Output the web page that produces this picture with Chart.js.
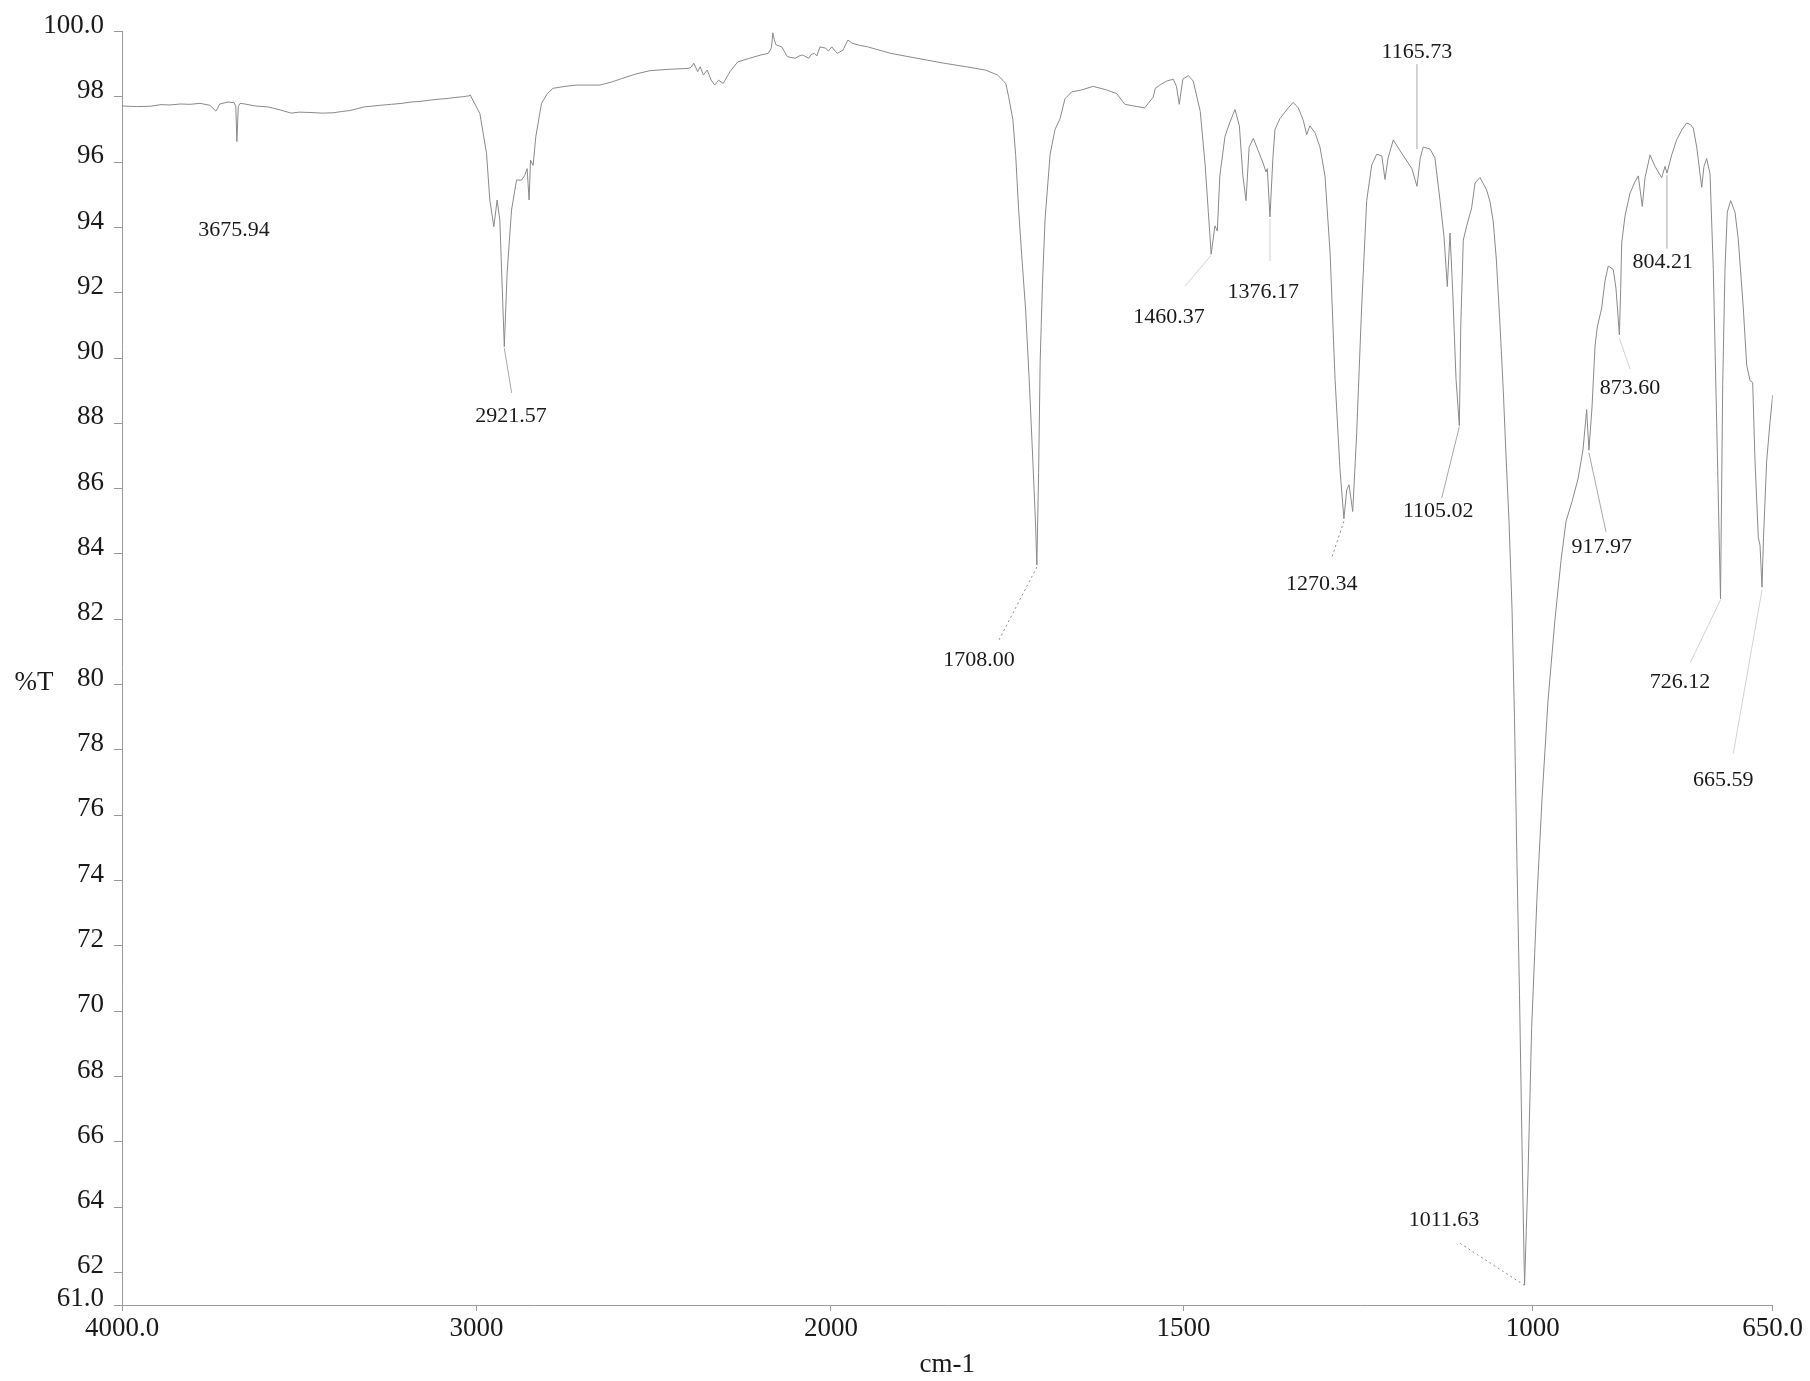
<!DOCTYPE html>
<html>
<head>
<meta charset="utf-8">
<title>FTIR spectrum</title>
<script src="https://cdn.jsdelivr.net/npm/chart.js@4.4.1/dist/chart.umd.min.js"></script>
<style>
  html, body { margin: 0; padding: 0; background: #ffffff; }
  #wrap { width: 1810px; height: 1381px; }
</style>
</head>
<body>
<div id="wrap"><canvas id="ir" width="1810" height="1381"></canvas></div>
<script>
// Spectrum: wavenumber (cm-1) and transmittance (%T)
const wavenumbers = [
  4000, 3960, 3921, 3890, 3865, 3835, 3808, 3780, 3752, 3735, 3724, 3701, 3684, 3679, 3675.94, 3672, 3667, 3653,
  3625, 3588, 3554, 3523, 3500, 3470, 3435, 3405, 3380, 3357, 3317, 3272, 3240, 3210, 3185, 3159, 3130, 3103,
  3080, 3061, 3040, 3021, 3018, 2990.6, 2971.7, 2962.4, 2951.1, 2941.8, 2934.2, 2921.57, 2913.6, 2901.2, 2887.1,
  2872.9, 2863.6, 2857.2, 2851.6, 2847.6, 2840.3, 2832.7, 2816.6, 2800, 2783.9, 2750, 2717.9, 2690, 2652, 2620,
  2587, 2550, 2511, 2460, 2403, 2395, 2387, 2376, 2369, 2360, 2349, 2338, 2328, 2317, 2304, 2285, 2263, 2230,
  2198, 2177, 2168, 2164, 2160, 2155, 2139, 2123, 2110, 2101, 2090, 2080, 2063, 2055, 2047, 2040, 2031, 2015,
  2007, 1999, 1991, 1983, 1976, 1970, 1960, 1948, 1915, 1878, 1840, 1808, 1781, 1764, 1756, 1752, 1748, 1742,
  1738, 1734, 1729, 1724, 1719, 1714, 1710, 1708, 1705.5, 1703.3, 1700, 1696.3, 1689.2, 1682.2, 1675.1, 1668.1,
  1658.6, 1644.5, 1628, 1609, 1595, 1583, 1571, 1555, 1543, 1540, 1533, 1524, 1514.5, 1510, 1506, 1501, 1493,
  1486, 1476, 1469, 1464.5, 1460.37, 1455, 1451.6, 1448, 1440.6, 1433.4, 1426.3, 1420, 1415, 1410.5, 1406, 1400,
  1393, 1386, 1382, 1380, 1376.17, 1372, 1369, 1362, 1352, 1343, 1335.6, 1328.5, 1323.6, 1319, 1311.7, 1304.6,
  1297.4, 1290, 1283, 1276, 1270.34, 1266.3, 1263, 1257.7, 1252, 1245, 1237.7, 1230.5, 1223.4, 1216, 1211.5,
  1207, 1199.6, 1190, 1173, 1165.73, 1161, 1156.7, 1147, 1140, 1132.7, 1127, 1122.3, 1118.4, 1114.6, 1109.8,
  1105.02, 1103, 1099.4, 1094.5, 1087.4, 1082.6, 1075.5, 1066, 1061.3, 1056.6, 1052, 1046.8, 1042.1, 1038.2,
  1033.9, 1029.6, 1026.1, 1022.5, 1018.9, 1015.4, 1012.5, 1011.63, 1006.7, 1001.5, 993.7, 986.4, 977.7, 967.5,
  958.7, 951.4, 942.7, 933.9, 926.6, 921.3, 917.97, 913.5, 909.1, 905.8, 899.4, 894.6, 889.8, 882.5, 878.5,
  873.6, 871.7, 870.2, 865.4, 858.1, 850.8, 846, 840.2, 836.2, 828.9, 821.6, 811.9, 807, 804.21, 797.3, 790,
  782.7, 775.4, 770, 765.8, 760.8, 756, 753.5, 750.2, 746.3, 741.4, 736.6, 731.7, 726.12, 722.9, 719.6, 716.2,
  711.3, 705, 700.2, 692.9, 687.9, 683.1, 679.2, 675.8, 671, 668.5, 665.59, 663.4, 658.8, 656.4, 654, 650
];
const transmittance = [
  97.72, 97.70, 97.71, 97.76, 97.75, 97.78, 97.77, 97.80, 97.74, 97.56, 97.78, 97.84, 97.82, 97.70, 96.63, 97.70, 97.80, 97.78,
  97.72, 97.69, 97.60, 97.50, 97.53, 97.52, 97.50, 97.51, 97.55, 97.58, 97.69, 97.74, 97.77, 97.80, 97.84, 97.86, 97.90, 97.93,
  97.95, 97.98, 98.00, 98.03, 98.06, 97.49, 96.27, 94.84, 94.02, 94.84, 94.23, 90.35, 92.60, 94.53, 95.45,
  95.45, 95.60, 95.80, 94.84, 96.06, 95.90, 96.78, 97.80, 98.10, 98.26, 98.32, 98.36, 98.36, 98.36, 98.45,
  98.57, 98.70, 98.80, 98.84, 98.87, 98.90, 99.03, 98.77, 98.92, 98.67, 98.82, 98.51, 98.36, 98.51, 98.41, 98.77, 99.07, 99.18,
  99.28, 99.33, 99.50, 99.96, 99.75, 99.59, 99.53, 99.23, 99.20, 99.18, 99.25, 99.28, 99.18, 99.30, 99.33, 99.25, 99.53, 99.49,
  99.40, 99.53, 99.33, 99.43, 99.74, 99.64, 99.58, 99.53, 99.33, 99.18, 99.03, 98.92, 98.82, 98.67, 98.50, 98.40, 98.00, 97.30,
  96.20, 94.60, 93.00, 91.50, 89.40, 87.00, 85.00, 83.66, 86.50, 89.90, 92.30, 94.27, 96.24, 97.00, 97.33, 97.94,
  98.15, 98.21, 98.32, 98.21, 98.10, 97.77, 97.72, 97.66, 97.99, 98.26, 98.37, 98.48, 98.54, 98.32, 97.77, 98.54, 98.65,
  98.48, 97.55, 95.91, 94.49, 93.18, 94.05, 93.89, 95.58, 96.79, 97.23, 97.61, 97.11, 95.58, 94.82, 96.46, 96.73,
  96.35, 95.97, 95.70, 95.80, 94.32, 96.13, 97.00, 97.33, 97.61, 97.83, 97.66, 97.28, 96.84, 97.11, 96.90, 96.46,
  95.58, 93.18, 89.35, 86.61, 85.08, 85.96, 86.12, 85.30, 87.71, 91.53, 94.82, 95.91, 96.24, 96.19, 95.47,
  96.13, 96.68, 96.35, 95.80, 95.26, 96.13, 96.46, 96.40, 96.13, 94.82, 93.72, 92.19, 93.83, 92.08, 89.35,
  87.93, 90.99, 93.61, 94.05, 94.60, 95.36, 95.53, 95.15, 94.80, 94.20, 93.00, 91.00, 89.00, 87.00,
  85.00, 82.30, 79.00, 74.50, 70.50, 66.00, 62.50, 61.62, 65.00, 69.50, 73.50, 76.50, 79.50, 82.00,
  83.80, 85.00, 85.60, 86.30, 87.20, 88.42, 87.18, 88.50, 90.37, 90.95, 91.53, 92.36, 92.82, 92.71, 92.12,
  90.71, 92.12, 93.53, 94.35, 95.05, 95.40, 95.58, 94.64, 95.52, 96.22, 95.87, 95.52, 95.87, 95.66, 96.22, 96.69,
  96.98, 97.20, 97.15, 97.04, 96.46, 95.64, 95.23, 95.87, 96.11, 95.64, 92.71, 88.02, 82.63, 89.19, 92.71, 94.47,
  94.82, 94.47, 93.64, 91.53, 89.78, 89.31, 89.25, 86.85, 84.50, 84.27, 82.98, 84.50, 86.85, 87.43, 88.02, 88.87
];

// Axis ticks
const xTickValues = [4000, 3000, 2000, 1500, 1000, 650];
const yTickValues = [61, 62, 64, 66, 68, 70, 72, 74, 76, 78, 80, 82, 84, 86, 88, 90, 92, 94, 96, 98, 100];

// Picked peaks
const peakLabels = ['3675.94', '2921.57', '1708.00', '1460.37', '1376.17', '1165.73', '1270.34',
                    '1105.02', '1011.63', '917.97', '873.60', '804.21', '726.12', '665.59'];

// Label placement for each peak, in axis units (cm-1, %T):
// text centre, and the leader line [from cm-1, from %T, to cm-1, to %T].
const labelPlacement = {
  '3675.94': { at: [3684, 93.92], lead: null },
  '2921.57': { at: [2902.7, 88.23], lead: [2921.57, 90.3, 2900.7, 88.93], style: 'solid' },
  '1708.00': { at: [1790, 80.75], lead: [1708, 83.6, 1762.4, 81.34], style: 'dot' },
  '1460.37': { at: [1520.6, 91.26], lead: [1460.37, 93.15, 1497.9, 92.2], style: 'faint' },
  '1376.17': { at: [1385.7, 92.03], lead: [1376.17, 94.27, 1376.17, 92.97], style: 'faint' },
  '1165.73': { at: [1165.73, 99.36], lead: [1165.73, 99.0, 1165.73, 96.4], style: 'solid' },
  '1270.34': { at: [1302, 83.06], lead: [1270.34, 85.0, 1287.8, 83.88], style: 'dot' },
  '1105.02': { at: [1135.2, 85.3], lead: [1105.02, 87.9, 1130.3, 85.71], style: 'solid' },
  '1011.63': { at: [1127, 63.6], lead: [1011.63, 61.6, 1104.1, 62.89], style: 'dot' },
  '917.97':  { at: [899.4, 84.22], lead: [917.97, 87.1, 893.1, 84.68], style: 'solid' },
  '873.60':  { at: [858, 89.07], lead: [873.6, 90.6, 858, 89.66], style: 'faint' },
  '804.21':  { at: [810.4, 92.94], lead: [804.21, 95.6, 804.21, 93.35], style: 'solid' },
  '726.12':  { at: [785.2, 80.06], lead: [726.12, 82.6, 770.6, 80.65], style: 'faint' },
  '665.59':  { at: [722, 77.07], lead: [665.59, 82.9, 707.5, 77.89], style: 'faint' }
};

const SERIF = '"Liberation Serif", "Times New Roman", "DejaVu Serif", serif';
const INK = '#1a1a1a';
Chart.defaults.font.family = SERIF;
Chart.defaults.color = INK;

// Wavenumber axis: 4000-2000 cm-1 is plotted at one scale and the
// fingerprint region below 2000 cm-1 expanded. Knots give the fraction of the
// axis length reached at each wavenumber.
const AXIS_KNOTS = [4000, 2000, 1500, 1000, 650];
const AXIS_FRACS = [0, 0.42951, 0.64306, 0.85461, 1];

class WavenumberScale extends Chart.LinearScale {
  static id = 'wavenumber';
  static defaults = Chart.LinearScale.defaults;

  fractionOf(v) {
    const k = AXIS_KNOTS, f = AXIS_FRACS;
    let i = 0;
    while (i < k.length - 2 && v < k[i + 1]) i++;
    return f[i] + (k[i] - v) / (k[i] - k[i + 1]) * (f[i + 1] - f[i]);
  }
  getPixelForValue(value) {
    if (value === null || value === undefined || isNaN(value)) return NaN;
    return this.getPixelForDecimal(this.fractionOf(value));
  }
  getValueForPixel(pixel) {
    const d = this.getDecimalForPixel(pixel);
    const k = AXIS_KNOTS, f = AXIS_FRACS;
    let i = 0;
    while (i < f.length - 2 && d > f[i + 1]) i++;
    return k[i] - (d - f[i]) / (f[i + 1] - f[i]) * (k[i] - k[i + 1]);
  }
}
Chart.register(WavenumberScale);

const points = wavenumbers.map((w, i) => ({ x: w, y: transmittance[i] }));

// Peak labels, leader lines and the %T axis caption
const annotatePlugin = {
  id: 'annotatePeaks',
  afterDatasetsDraw(chart) {
    const { ctx, scales: { x, y } } = chart;
    ctx.save();
    peakLabels.forEach(lbl => {
      const p = labelPlacement[lbl];
      if (p.lead) {
        const [w1, v1, w2, v2] = p.lead;
        ctx.beginPath();
        if (p.style === 'dot') {
          ctx.setLineDash([2, 3]);
          ctx.strokeStyle = '#8c8c8c';
        } else if (p.style === 'faint') {
          ctx.setLineDash([]);
          ctx.strokeStyle = '#d2d2d2';
        } else {
          ctx.setLineDash([]);
          ctx.strokeStyle = '#a8a8a8';
        }
        ctx.lineWidth = 1;
        ctx.moveTo(x.getPixelForValue(w1), y.getPixelForValue(v1));
        ctx.lineTo(x.getPixelForValue(w2), y.getPixelForValue(v2));
        ctx.stroke();
      }
      ctx.setLineDash([]);
      ctx.font = '22px ' + SERIF;
      ctx.fillStyle = INK;
      ctx.textAlign = 'center';
      ctx.textBaseline = 'middle';
      ctx.fillText(lbl, x.getPixelForValue(p.at[0]), y.getPixelForValue(p.at[1]));
    });
    ctx.font = '27px ' + SERIF;
    ctx.fillStyle = INK;
    ctx.textAlign = 'center';
    ctx.textBaseline = 'middle';
    ctx.fillText('%T', 34, y.getPixelForValue(80) - 2);
    ctx.restore();
  }
};

new Chart(document.getElementById('ir'), {
  type: 'line',
  data: {
    datasets: [{
      data: points,
      borderColor: '#8a8a8a',
      borderWidth: 1,
      pointRadius: 0,
      tension: 0,
      fill: false
    }]
  },
  options: {
    responsive: false,
    animation: false,
    devicePixelRatio: 1,
    layout: { padding: { left: 0, right: 37.3, top: 31.5, bottom: 0 } },
    plugins: { legend: { display: false }, tooltip: { enabled: false } },
    scales: {
      x: {
        type: 'wavenumber',
        min: 650,
        max: 4000,
        afterBuildTicks: s => { s.ticks = xTickValues.map(v => ({ value: v })); },
        afterFit: s => { s.height = 76; },
        grid: { drawOnChartArea: false, drawTicks: true, tickLength: 6, color: '#9a9a9a' },
        border: { display: true, color: '#9a9a9a', width: 1 },
        ticks: {
          autoSkip: false,
          maxRotation: 0,
          padding: 2,
          font: { size: 27 },
          color: INK,
          callback: v => (v === 4000 ? '4000.0' : v === 650 ? '650.0' : String(v))
        },
        title: { display: true, text: 'cm-1', font: { size: 27 }, color: INK, padding: { top: 0, bottom: 0 } }
      },
      y: {
        type: 'linear',
        min: 61,
        max: 100,
        afterBuildTicks: s => { s.ticks = yTickValues.map(v => ({ value: v })); },
        afterFit: s => { s.width = 122; },
        grid: { drawOnChartArea: false, drawTicks: true, tickLength: 8, color: '#9a9a9a' },
        border: { display: true, color: '#9a9a9a', width: 1 },
        ticks: {
          autoSkip: false,
          padding: 10,
          labelOffset: -6,
          font: { size: 27 },
          color: INK,
          callback: v => (v === 100 ? '100.0' : v === 61 ? '61.0' : String(v))
        }
      }
    }
  },
  plugins: [annotatePlugin]
});
</script>
</body>
</html>
